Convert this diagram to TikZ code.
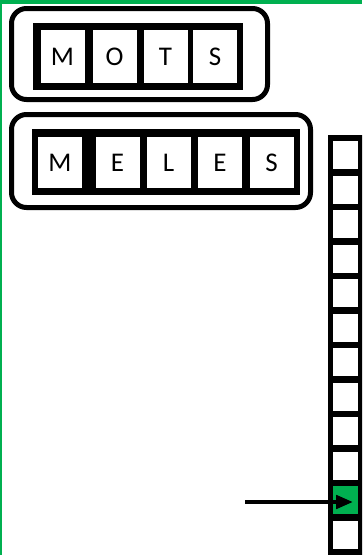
\documentclass[tikz,border=0pt]{standalone}
\usepackage{fontspec}
\setmainfont{Carlito}
\usetikzlibrary{arrows.meta}
\definecolor{ogreen}{HTML}{00B050}
\begin{document}
\begin{tikzpicture}[x=1pt,y=-1pt,
  letterbox/.style={fill=white, inner sep=0pt, minimum width=44pt,
    font=\fontsize{27}{27}\selectfont},
  groupframe/.style={draw=black, line width=5pt, rounded corners=15pt},
  slot/.style={fill=white, inner sep=0pt, minimum width=25pt, minimum height=28pt},
  pointer/.style={draw=black, line width=4.5pt, -{Triangle[length=17pt,width=13pt]}}]
\useasboundingbox (0,0) rectangle (362,555);
\clip (0,0) rectangle (362,555);
% green page border (top and left)
\fill[ogreen] (0,0) rectangle (362,4);
\fill[ogreen] (0,0) rectangle (2,555);
% MOTS group
\draw[groupframe] (11.5,8.5) rectangle (267.5,99.5);
\fill[black] (33,23) rectangle (243,90);
\node[letterbox, minimum height=53pt] (mo1) at (62.5,56.5) {M};
\node[letterbox, minimum height=53pt] (mo2) at (114.5,56.5) {O};
\node[letterbox, minimum height=53pt] (mo3) at (165.5,56.5) {T};
\node[letterbox, minimum height=53pt] (mo4) at (215,56.5) {S};
% MELES group
\draw[groupframe] (11.5,114.5) rectangle (310.5,207.5);
\fill[black] (32,129) rectangle (300,195);
\node[letterbox, minimum height=51pt] (me1) at (60,162.5) {M};
\node[letterbox, minimum height=51pt] (me2) at (117.5,162.5) {E};
\node[letterbox, minimum height=51pt] (me3) at (168.5,162.5) {L};
\node[letterbox, minimum height=51pt] (me4) at (220,162.5) {E};
\node[letterbox, minimum height=51pt] (me5) at (271.5,162.5) {S};
% column of slots
\fill[black] (328,135) rectangle (363,560);
\foreach \i in {1,...,12}{
  \node[slot] (c\i) at (345.5,{155+34.5*(\i-1)}) {};
}
\fill[ogreen] (c11.south west) rectangle (c11.north east);
% pointer
\coordinate (start) at (245,502);
\draw[pointer] (start) -- ([xshift=-5pt,yshift=-2pt]c11.east);
\end{tikzpicture}
\end{document}
